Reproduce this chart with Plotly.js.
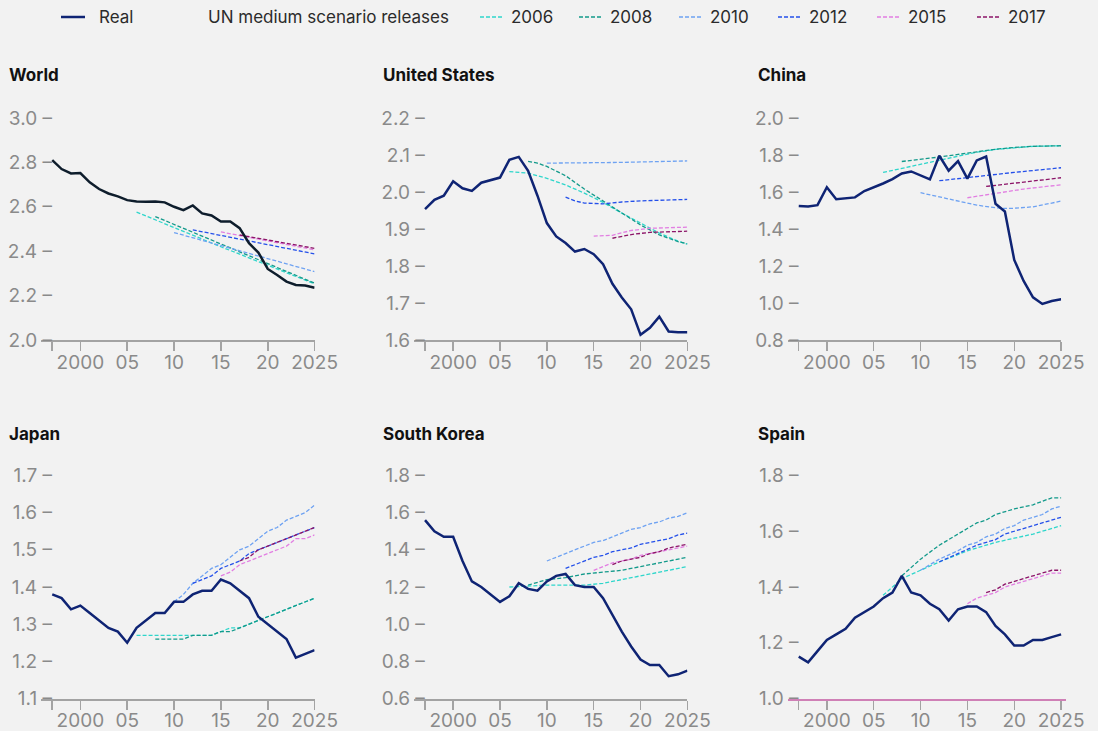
<!DOCTYPE html>
<html>
<head>
<meta charset="utf-8">
<script src="https://cdn.plot.ly/plotly-3.0.1.min.js"></script>
<style>
html,body{margin:0;padding:0;background:#f2f2f2;}
#chart{width:1098px;height:731px;}
</style>
</head>
<body>
<div id="chart"></div>
<script>
// ---------- DATA ----------
const YEARS = [1997,1998,1999,2000,2001,2002,2003,2004,2005,2006,2007,2008,2009,2010,2011,2012,2013,2014,2015,2016,2017,2018,2019,2020,2021,2022,2023,2024,2025];
const X_TICKS = [1997,2000,2005,2010,2015,2020,2025];
const X_TICK_LABELS = ["","2000","05","10","15","20","2025"];
const PANELS = ["World","United States","China","Japan","South Korea","Spain"];
const RELEASES = ["2006","2008","2010","2012","2015","2017"];

const WORLD_REAL = [2.81,2.77,2.75,2.752,2.71,2.68,2.66,2.647,2.63,2.624,2.623,2.624,2.62,2.60,2.585,2.606,2.57,2.561,2.534,2.534,2.504,2.436,2.394,2.32,2.293,2.263,2.248,2.245,2.235];
const US_REAL    = [1.954,1.979,1.990,2.029,2.010,2.003,2.025,2.031,2.039,2.087,2.095,2.057,1.990,1.916,1.880,1.862,1.839,1.846,1.832,1.805,1.752,1.715,1.683,1.614,1.633,1.663,1.623,1.621,1.621];
const CHINA_REAL = [1.525,1.522,1.529,1.626,1.561,1.565,1.571,1.605,1.625,1.646,1.670,1.700,1.711,1.688,1.668,1.796,1.715,1.767,1.672,1.771,1.792,1.536,1.495,1.233,1.119,1.031,0.995,1.011,1.020];
const JAPAN_REAL = [1.38,1.37,1.34,1.35,1.33,1.31,1.29,1.28,1.25,1.29,1.31,1.33,1.33,1.36,1.36,1.38,1.39,1.39,1.42,1.41,1.39,1.37,1.32,1.30,1.28,1.26,1.21,1.22,1.23];
const KOREA_REAL = [1.56,1.50,1.47,1.47,1.34,1.23,1.20,1.16,1.12,1.15,1.22,1.19,1.18,1.23,1.26,1.27,1.21,1.20,1.20,1.14,1.05,0.96,0.88,0.81,0.78,0.78,0.72,0.73,0.75];
const SPAIN_REAL = [1.15,1.13,1.17,1.21,1.23,1.25,1.29,1.31,1.33,1.36,1.38,1.44,1.38,1.37,1.34,1.32,1.28,1.32,1.33,1.33,1.31,1.26,1.23,1.19,1.19,1.21,1.21,1.22,1.23];

// UN medium scenario releases: [year, TFR]
const WORLD_UN2006 = [[2006,2.576],[2015,2.42],[2025,2.253]];
const WORLD_UN2008 = [[2008,2.556],[2015,2.432],[2025,2.256]];
const WORLD_UN2010 = [[2010,2.484],[2018,2.39],[2025,2.308]];
const WORLD_UN2012 = [[2012,2.496],[2018,2.445],[2025,2.388]];
const WORLD_UN2015 = [[2015,2.487],[2020,2.447],[2025,2.406]];
const WORLD_UN2017 = [[2017,2.473],[2021,2.443],[2025,2.413]];

const US_UN2006 = [[2006,2.055],[2007,2.054],[2008,2.051],[2010,2.037],[2012,2.019],[2014,1.997],[2016,1.972],[2018,1.943],[2020,1.916],[2022,1.889],[2024,1.867],[2025,1.859]];
const US_UN2008 = [[2008,2.083],[2009,2.078],[2010,2.069],[2012,2.044],[2014,2.008],[2016,1.975],[2018,1.943],[2020,1.911],[2022,1.884],[2024,1.866],[2025,1.860]];
const US_UN2010 = [[2010,2.078],[2018,2.080],[2025,2.084]];
const US_UN2012 = [[2012,1.986],[2013,1.976],[2014,1.970],[2016,1.968],[2018,1.973],[2020,1.976],[2025,1.980]];
const US_UN2015 = [[2015,1.881],[2017,1.883],[2019,1.896],[2021,1.902],[2025,1.905]];
const US_UN2017 = [[2017,1.875],[2019,1.885],[2021,1.891],[2025,1.894]];

const CHINA_UN2006 = [[2006,1.706],[2008,1.728],[2010,1.749],[2012,1.773],[2014,1.795],[2016,1.815],[2018,1.830],[2020,1.840],[2022,1.847],[2025,1.850]];
const CHINA_UN2008 = [[2008,1.765],[2010,1.776],[2012,1.789],[2014,1.803],[2016,1.818],[2018,1.831],[2020,1.841],[2022,1.847],[2025,1.850]];
const CHINA_UN2010 = [[2010,1.596],[2012,1.573],[2014,1.548],[2016,1.529],[2018,1.515],[2019,1.511],[2020,1.512],[2022,1.520],[2024,1.540],[2025,1.551]];
const CHINA_UN2012 = [[2012,1.661],[2016,1.684],[2020,1.706],[2025,1.731]];
const CHINA_UN2015 = [[2015,1.569],[2018,1.594],[2021,1.616],[2025,1.639]];
const CHINA_UN2017 = [[2017,1.630],[2020,1.648],[2025,1.677]];

const JAPAN_UN2006 = [[2006,1.27],[2014,1.27],[2015,1.28],[2016,1.29],[2017,1.29],[2018,1.30],[2019,1.31],[2020,1.32],[2021,1.33],[2022,1.34],[2023,1.35],[2024,1.36],[2025,1.37]];
const JAPAN_UN2008 = [[2008,1.26],[2011,1.26],[2012,1.27],[2014,1.27],[2015,1.28],[2016,1.28],[2017,1.29],[2018,1.30],[2019,1.31],[2020,1.32],[2021,1.33],[2022,1.34],[2023,1.35],[2024,1.36],[2025,1.37]];
const JAPAN_UN2010 = [[2010,1.36],[2011,1.38],[2012,1.41],[2013,1.43],[2014,1.45],[2015,1.46],[2016,1.48],[2017,1.50],[2018,1.51],[2019,1.53],[2020,1.55],[2021,1.56],[2022,1.58],[2023,1.59],[2024,1.60],[2025,1.62]];
const JAPAN_UN2012 = [[2012,1.41],[2013,1.42],[2014,1.43],[2015,1.45],[2016,1.46],[2017,1.47],[2018,1.49],[2019,1.50],[2020,1.51],[2021,1.52],[2022,1.53],[2023,1.54],[2024,1.55],[2025,1.56]];
const JAPAN_UN2015 = [[2015,1.43],[2016,1.44],[2017,1.46],[2018,1.47],[2019,1.48],[2020,1.49],[2021,1.50],[2022,1.51],[2023,1.53],[2024,1.53],[2025,1.54]];
const JAPAN_UN2017 = [[2017,1.47],[2018,1.48],[2019,1.50],[2020,1.51],[2021,1.52],[2022,1.53],[2023,1.54],[2024,1.55],[2025,1.56]];

const KOREA_UN2006 = [[2006,1.20],[2010,1.21],[2014,1.21],[2016,1.22],[2018,1.24],[2020,1.26],[2022,1.28],[2025,1.31]];
const KOREA_UN2008 = [[2008,1.21],[2010,1.24],[2012,1.25],[2014,1.27],[2016,1.28],[2018,1.29],[2020,1.31],[2022,1.33],[2025,1.36]];
const KOREA_UN2010 = [[2010,1.34],[2012,1.38],[2014,1.42],[2015,1.44],[2016,1.45],[2018,1.49],[2019,1.51],[2020,1.52],[2021,1.54],[2022,1.55],[2023,1.57],[2024,1.58],[2025,1.60]];
const KOREA_UN2012 = [[2012,1.30],[2013,1.32],[2014,1.34],[2015,1.36],[2016,1.37],[2017,1.39],[2018,1.40],[2019,1.41],[2020,1.43],[2021,1.44],[2022,1.45],[2023,1.46],[2024,1.48],[2025,1.49]];
const KOREA_UN2015 = [[2015,1.29],[2016,1.31],[2017,1.33],[2018,1.34],[2019,1.35],[2020,1.37],[2021,1.38],[2022,1.39],[2023,1.40],[2024,1.41],[2025,1.42]];
const KOREA_UN2017 = [[2017,1.32],[2018,1.34],[2019,1.35],[2020,1.36],[2021,1.38],[2022,1.39],[2023,1.41],[2024,1.42],[2025,1.43]];

const SPAIN_UN2006 = [[2006,1.37],[2008,1.43],[2010,1.46],[2012,1.49],[2015,1.53],[2018,1.56],[2020,1.575],[2022,1.59],[2025,1.62]];
const SPAIN_UN2008 = [[2008,1.44],[2010,1.50],[2012,1.55],[2014,1.59],[2016,1.63],[2017,1.64],[2018,1.66],[2020,1.68],[2022,1.695],[2024,1.72],[2025,1.72]];
const SPAIN_UN2010 = [[2010,1.46],[2012,1.50],[2014,1.53],[2015,1.55],[2016,1.56],[2017,1.58],[2018,1.59],[2019,1.61],[2020,1.62],[2021,1.64],[2022,1.65],[2023,1.66],[2024,1.68],[2025,1.69]];
const SPAIN_UN2012 = [[2012,1.49],[2014,1.52],[2016,1.55],[2018,1.57],[2019,1.59],[2020,1.60],[2022,1.62],[2024,1.64],[2025,1.65]];
const SPAIN_UN2015 = [[2015,1.34],[2016,1.36],[2017,1.37],[2018,1.38],[2019,1.40],[2020,1.41],[2021,1.42],[2022,1.43],[2023,1.44],[2024,1.45],[2025,1.45]];
const SPAIN_UN2017 = [[2017,1.38],[2018,1.39],[2019,1.41],[2020,1.42],[2021,1.43],[2022,1.44],[2023,1.45],[2024,1.46],[2025,1.46]];

const WORLD_YTICKS = [2.0,2.2,2.4,2.6,2.8,3.0];
const US_YTICKS    = [1.6,1.7,1.8,1.9,2.0,2.1,2.2];
const CHINA_YTICKS = [0.8,1.0,1.2,1.4,1.6,1.8,2.0];
const JAPAN_YTICKS = [1.1,1.2,1.3,1.4,1.5,1.6,1.7];
const KOREA_YTICKS = [0.6,0.8,1.0,1.2,1.4,1.6,1.8];
const SPAIN_YTICKS = [1.0,1.2,1.4,1.6,1.8];

// ---------- STYLE ----------
const REL_COLORS = {"2006":"#2fd6cb","2008":"#139a8b","2010":"#6ea2f2","2012":"#2450ea","2015":"#e27ee2","2017":"#8c1468"};
const REAL_COLOR = "#0f2474";
const WORLD_REAL_COLOR = "#0e1d2c";
const FONT = "Inter, Liberation Sans, Arial, sans-serif";
const DASH = "4px,2px";
const W = 1098, H = 731;

const panels = [
  {real: WORLD_REAL, proj: [WORLD_UN2006,WORLD_UN2008,WORLD_UN2010,WORLD_UN2012,WORLD_UN2015,WORLD_UN2017], yt: WORLD_YTICKS, col:0, row:0, realColor: WORLD_REAL_COLOR},
  {real: US_REAL, proj: [US_UN2006,US_UN2008,US_UN2010,US_UN2012,US_UN2015,US_UN2017], yt: US_YTICKS, col:1, row:0},
  {real: CHINA_REAL, proj: [CHINA_UN2006,CHINA_UN2008,CHINA_UN2010,CHINA_UN2012,CHINA_UN2015,CHINA_UN2017], yt: CHINA_YTICKS, col:2, row:0},
  {real: JAPAN_REAL, proj: [JAPAN_UN2006,JAPAN_UN2008,JAPAN_UN2010,JAPAN_UN2012,JAPAN_UN2015,JAPAN_UN2017], yt: JAPAN_YTICKS, col:0, row:1},
  {real: KOREA_REAL, proj: [KOREA_UN2006,KOREA_UN2008,KOREA_UN2010,KOREA_UN2012,KOREA_UN2015,KOREA_UN2017], yt: KOREA_YTICKS, col:1, row:1},
  {real: SPAIN_REAL, proj: [SPAIN_UN2006,SPAIN_UN2008,SPAIN_UN2010,SPAIN_UN2012,SPAIN_UN2015,SPAIN_UN2017], yt: SPAIN_YTICKS, col:2, row:1, pinkAxis: true}
];

// layout geometry (pixels)
const COL_LEFT = [41, 413.8, 787.5];
const PX_PER_YEAR = 9.37;
const X0 = 1995.8, X1 = 2025;
const ROW_TOP = [118, 475.5];
const ROW_BOTTOM = [340, 698.5];
const TITLE_Y = [75, 434];
const TITLE_X = [7, 381, 756];

const traces = [];
const layout = {
  width: W, height: H,
  margin: {l:0, r:0, t:0, b:0},
  paper_bgcolor: "#f2f2f2",
  plot_bgcolor: "#f2f2f2",
  showlegend: false,
  font: {family: FONT, color: "#8a8a8a"},
  annotations: [],
  shapes: []
};

panels.forEach((p, i) => {
  const n = i === 0 ? "" : String(i + 1);
  const xa = "x" + n, ya = "y" + n;
  const xEnd = p.pinkAxis ? 2025.5 : X1;
  const left = COL_LEFT[p.col];
  const right = left + (xEnd - X0) * PX_PER_YEAR;
  const ymin = p.yt[0], ymax = p.yt[p.yt.length - 1];

  layout["xaxis" + n] = {
    domain: [left / W, right / W],
    range: [X0, xEnd],
    anchor: ya,
    tickmode: "array", tickvals: X_TICKS, ticktext: X_TICK_LABELS,
    ticks: "outside", ticklen: 9, tickwidth: 1.5, tickcolor: "#a3a3a3",
    showline: true, linecolor: p.pinkAxis ? "#cf80b6" : "#a3a3a3", linewidth: 2,
    showgrid: false, zeroline: false,
    tickfont: {family: FONT, size: 19, color: "#8a8a8a"},
    ticklabelstandoff: -5,
    fixedrange: true
  };
  layout["yaxis" + n] = {
    domain: [(H - ROW_BOTTOM[p.row]) / H, (H - ROW_TOP[p.row]) / H],
    range: [ymin, ymax],
    anchor: xa,
    tickmode: "array", tickvals: p.yt, ticktext: p.yt.map(v => v.toFixed(1) + " \u2013"),
    ticks: "",
    showline: false, showgrid: false, zeroline: false,
    tickfont: {family: FONT, size: 19, color: "#8a8a8a"},
    ticklabelstandoff: -12,
    fixedrange: true
  };

  p.proj.forEach((series, k) => {
    traces.push({
      type: "scatter", mode: "lines",
      x: series.map(d => d[0]), y: series.map(d => d[1]),
      xaxis: xa, yaxis: ya,
      name: RELEASES[k],
      line: {color: REL_COLORS[RELEASES[k]], width: 1.3, dash: DASH},
      hoverinfo: "skip"
    });
  });
  traces.push({
    type: "scatter", mode: "lines",
    x: YEARS, y: p.real,
    xaxis: xa, yaxis: ya,
    name: "Real",
    line: {color: p.realColor || REAL_COLOR, width: 2.5},
    hoverinfo: "skip"
  });

  layout.annotations.push({
    xref: "paper", yref: "paper",
    x: TITLE_X[p.col] / W, y: (H - TITLE_Y[p.row]) / H,
    xanchor: "left", yanchor: "middle",
    text: "<b>" + PANELS[i] + "</b>", showarrow: false,
    font: {family: FONT, size: 17, color: "#111111"}
  });
});

// ---------- LEGEND (manual) ----------
const LEG_Y = (H - 17) / H;
function legLine(x0, x1, color, width, dash) {
  layout.shapes.push({type: "line", xref: "paper", yref: "paper", x0: x0 / W, x1: x1 / W, y0: LEG_Y, y1: LEG_Y,
    line: {color: color, width: width, dash: dash}});
}
function legText(x, text) {
  layout.annotations.push({xref: "paper", yref: "paper", x: x / W, y: LEG_Y, xanchor: "left", yanchor: "middle",
    text: text, showarrow: false, font: {family: FONT, size: 17, color: "#2b2b2b"}});
}
legLine(61, 85, REAL_COLOR, 2.5, "solid");
legText(97, "Real");
legText(206, "UN medium scenario releases");
const LEG_X = [480, 579, 679, 778, 877, 977];
RELEASES.forEach((r, k) => {
  legLine(LEG_X[k], LEG_X[k] + 23, REL_COLORS[r], 1.3, DASH);
  legText(LEG_X[k] + 29, r);
});

Plotly.newPlot("chart", traces, layout, {staticPlot: true, displayModeBar: false});
</script>
</body>
</html>
